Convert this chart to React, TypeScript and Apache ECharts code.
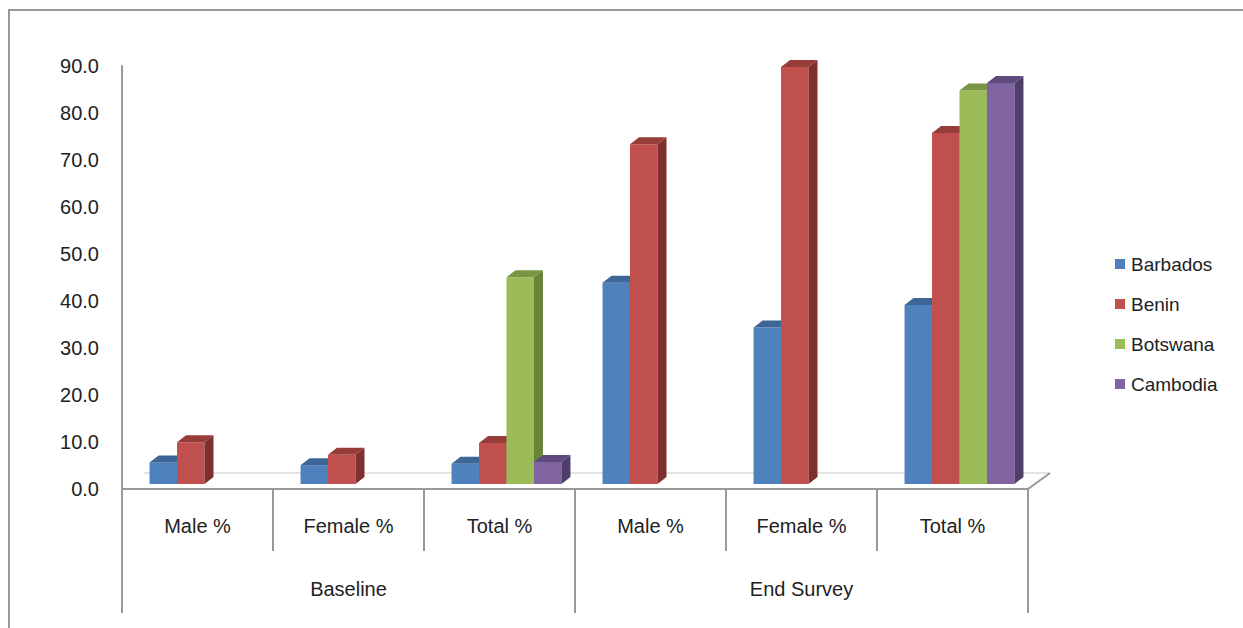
import React, { useEffect, useRef } from "react";
import * as echarts from "echarts";

const categories = ["Male %", "Female %", "Total %", "Male %", "Female %", "Total %"];
const groups = ["Baseline", "End Survey"];
const yTicks = { min: 0, max: 90, interval: 10 };

const countries = ["Barbados", "Benin", "Botswana", "Cambodia"];
const barbados = [4.6, 4.0, 4.3, 42.8, 33.3, 38.1];
const benin = [8.9, 6.2, 8.7, 72.3, 88.7, 74.7];
const botswana = [null, null, 44.0, null, null, 83.7];
const cambodia = [null, null, 4.7, null, null, 85.3];
const seriesValues = [barbados, benin, botswana, cambodia];

const palette = [
  { front: "#4F81BD", top: "#3D6596", side: "#385D8A" },
  { front: "#C0504D", top: "#963D3A", side: "#7E302E" },
  { front: "#9BBB59", top: "#7A9543", side: "#6A843A" },
  { front: "#8064A2", top: "#5F4A7E", side: "#4F3D6A" },
];

const FONT = "'Liberation Sans', Arial, sans-serif";
const TEXT = "#222";
const AXIS = "#999";

const GRID = { left: 122, right: 215, top: 66, bottom: 139 };
const W = 1243;
const H = 628;

function makeRender(slot: number) {
  const c = palette[slot];
  return (params: any, api: any) => {
    const idx = api.value(0);
    const v = api.value(1);
    if (v == null || isNaN(v)) return null;
    const band = api.size([1, 0])[0];
    const pTop = api.coord([idx, v]);
    const pBase = api.coord([idx, 0]);
    const w = band * 0.182;
    const shiftX = 7;
    const shiftY = 5;
    const dx = 9;
    const dy = 7;
    const x0 = pTop[0] + shiftX - 2 * w + slot * w;
    const top = pTop[1] - shiftY;
    const base = pBase[1] - shiftY;
    return {
      type: "group",
      children: [
        {
          type: "rect",
          shape: { x: x0, y: top, width: w, height: base - top },
          style: { fill: c.front },
        },
        {
          type: "polygon",
          shape: {
            points: [
              [x0, top],
              [x0 + w, top],
              [x0 + w + dx, top - dy],
              [x0 + dx, top - dy],
            ],
          },
          style: { fill: c.top },
        },
        {
          type: "polygon",
          shape: {
            points: [
              [x0 + w, top],
              [x0 + w + dx, top - dy],
              [x0 + w + dx, base - dy],
              [x0 + w, base],
            ],
          },
          style: { fill: c.side },
        },
      ],
    };
  };
}

export default function App() {
  const ref = useRef<HTMLDivElement>(null);
  useEffect(() => {
    document.body.style.margin = "0";
    if (!ref.current) return;
    const chart = echarts.init(ref.current, undefined, { renderer: "svg" });
    const axisY = H - GRID.bottom;
    const axisL = GRID.left;
    const axisR = W - GRID.right;
    const depthX = 22;
    const depthY = 16;
    chart.setOption({
      animation: false,
      backgroundColor: "#fff",
      textStyle: { fontFamily: FONT },
      grid: { ...GRID },
      legend: {
        orient: "vertical",
        left: 1115,
        top: 254,
        padding: 0,
        itemWidth: 10,
        itemHeight: 10,
        itemGap: 20,
        icon: "rect",
        data: countries,
        textStyle: { fontSize: 19, color: TEXT, fontFamily: FONT, lineHeight: 20, padding: [0, 0, 0, 1] },
      },
      graphic: [
        {
          type: "rect",
          z: 0,
          silent: true,
          shape: { x: 9, y: 10, width: 1400, height: 800 },
          style: { fill: "none", stroke: AXIS, lineWidth: 2 },
        },
        {
          type: "line",
          z: 0,
          silent: true,
          shape: { x1: axisL + depthX, y1: axisY - depthY, x2: axisR + depthX, y2: axisY - depthY },
          style: { stroke: "#e3e3e3", lineWidth: 2 },
        },
        {
          type: "line",
          z: 0,
          silent: true,
          shape: { x1: axisR, y1: axisY, x2: axisR + depthX, y2: axisY - depthY },
          style: { stroke: AXIS, lineWidth: 2 },
        },
      ],
      xAxis: [
        {
          type: "category",
          data: categories,
          position: "bottom",
          axisLine: { show: true, lineStyle: { color: AXIS, width: 2 } },
          axisTick: { show: true, interval: 0, length: 62, lineStyle: { color: AXIS, width: 2 } },
          axisLabel: { interval: 0, margin: 27, fontSize: 20, color: TEXT, fontFamily: FONT },
          splitLine: { show: false },
        },
        {
          type: "category",
          data: groups,
          position: "bottom",
          axisLine: { show: false },
          axisTick: { show: true, interval: 0, length: 124, lineStyle: { color: AXIS, width: 2 } },
          axisLabel: { interval: 0, margin: 90, fontSize: 20, color: TEXT, fontFamily: FONT },
          splitLine: { show: false },
        },
      ],
      yAxis: {
        type: "value",
        min: yTicks.min,
        max: yTicks.max,
        interval: yTicks.interval,
        axisLine: { show: true, lineStyle: { color: AXIS, width: 2 } },
        axisTick: { show: false },
        splitLine: { show: false },
        axisLabel: {
          margin: 23,
          fontSize: 20,
          color: TEXT,
          fontFamily: FONT,
          formatter: (v: number) => v.toFixed(1),
        },
      },
      series: countries.map((name, k) => ({
        name,
        type: "custom",
        xAxisIndex: 0,
        yAxisIndex: 0,
        z: 3,
        itemStyle: { color: palette[k].front },
        renderItem: makeRender(k),
        encode: { x: 0, y: 1 },
        data: seriesValues[k].map((v, i) => [i, v == null ? "-" : v]),
      })),
    });
    return () => chart.dispose();
  }, []);
  return <div ref={ref} style={{ width: W, height: H }} />;
}
